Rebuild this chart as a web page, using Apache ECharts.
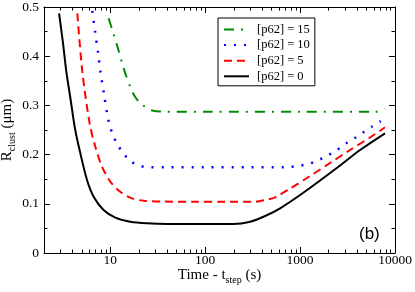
<!DOCTYPE html>
<html>
<head>
<meta charset="utf-8">
<script src="https://cdn.jsdelivr.net/npm/echarts@6/dist/echarts.min.js"></script>
<style>
html,body{margin:0;padding:0;background:#fff;}
#chart{width:415px;height:292px;}
</style>
</head>
<body>
<div id="chart"></div>
<script>
// ---- data ----
const seriesNames = ['[p62] = 15', '[p62] = 10', '[p62] = 5', '[p62] = 0'];

const t0 = [2.884, 3.16, 3.44, 3.82, 4.25, 4.83, 5.69, 6.67, 8.49, 11.3, 16.2, 24.3, 40, 80, 140, 197, 298, 428, 616, 1000, 1624, 2637, 4283, 7850];
const r0 = [0.4872, 0.4289, 0.3685, 0.311, 0.252, 0.2026, 0.148, 0.1144, 0.0874, 0.0718, 0.0636, 0.0603, 0.059, 0.059, 0.059, 0.059, 0.0636, 0.0752, 0.0909, 0.1179, 0.1474, 0.1778, 0.2093, 0.2433];

const t5 = [4.49, 5.07, 6.05, 6.95, 8.18, 10, 12.7, 16.9, 22.4, 35, 80, 160, 336, 428, 546, 785, 1274, 2069, 3357, 5456, 7850];
const r5 = [0.487, 0.3685, 0.2636, 0.216, 0.1754, 0.145, 0.1246, 0.111, 0.1063, 0.1045, 0.1043, 0.1043, 0.1043, 0.1077, 0.1132, 0.1311, 0.1565, 0.1829, 0.2093, 0.2348, 0.2555];

const t10 = [6.46, 6.9, 7.42, 7.91, 8.59, 9.30, 9.83, 10.67, 11.94, 13.8, 16.2, 20.3, 25.3, 40, 100, 300, 695, 956, 1222, 1560, 1986, 2432, 2976, 3733, 4571, 5694, 7085];
const r10 = [0.4919, 0.451, 0.408, 0.365, 0.3226, 0.2805, 0.260, 0.2398, 0.2195, 0.2026, 0.187, 0.1774, 0.1745, 0.1745, 0.1745, 0.1745, 0.1745, 0.177, 0.181, 0.189, 0.199, 0.209, 0.2215, 0.233, 0.2445, 0.2567, 0.268];

const t15 = [9.60, 10.75, 12.0, 13.2, 14.55, 16.24, 18.3, 21.7, 27.7, 37.9, 100, 1000, 6170, 7850];
const r15 = [0.477, 0.447, 0.4167, 0.388, 0.362, 0.3374, 0.317, 0.301, 0.2896, 0.2872, 0.287, 0.287, 0.287, 0.2927];

const xMinorTicks = [2,3,4,5,6,7,8,9,20,30,40,50,60,70,80,90,200,300,400,500,600,700,800,900,2000,3000,4000,5000,6000,7000,8000,9000];
const yTickLabels = ['0', '0.1', '0.2', '0.3', '0.4', '0.5'];
const xName = '{m|Time - t}{s|step}{m| (s)}';
const yName = '{m|R}{s|clust}{m| (μm)}';
const panelLabel = '(b)';

const xMin = 2, xMax = 10000, yMin = 0, yMax = 0.5, yStep = 0.1;

// ---- chart ----
const zip = (a, b) => a.map((v, i) => [v, b[i]]);
const serif = 'Liberation Serif';
const lg = v => Math.log10(v);
const rich = {
  m: {fontFamily: serif, fontSize: 15, color: '#000'},
  s: {fontFamily: serif, fontSize: 10, color: '#000', padding: [9, 0, 0, 0]}
};

const majorAxis = (pos, main) => ({
  type: 'log', logBase: 10, position: pos, min: xMin, max: xMax, gridIndex: 0,
  name: main ? xName : '', nameLocation: 'middle', nameGap: 13, nameMoveOverlap: false,
  nameTextStyle: {rich: rich},
  axisLine: {show: true, onZero: false, lineStyle: {color: '#000', width: 1}},
  axisTick: {show: true, inside: true, length: 6, lineStyle: {color: '#000', width: 1}},
  axisLabel: {show: main, showMinLabel: false, color: '#000', fontFamily: serif, fontSize: 13.5, margin: 0,
    formatter: v => String(Math.round(v))},
  splitLine: {show: false}, minorTick: {show: false}, minorSplitLine: {show: false}
});
const minorAxis = (pos) => ({
  type: 'value', position: pos, min: lg(xMin), max: lg(xMax), gridIndex: 0,
  axisLine: {show: false, onZero: false},
  axisTick: {show: true, inside: true, length: 3.5, customValues: xMinorTicks.map(lg), lineStyle: {color: '#000', width: 1}},
  axisLabel: {show: false},
  splitLine: {show: false}
});
const yAx = (pos, main) => ({
  type: 'value', position: pos, min: yMin, max: yMax, interval: yStep,
  name: main ? yName : '', nameLocation: 'middle', nameGap: 27, nameRotate: 90, nameMoveOverlap: false,
  nameTextStyle: {rich: rich},
  axisLine: {show: true, onZero: false, lineStyle: {color: '#000', width: 1}},
  axisTick: {show: true, inside: true, length: 6, lineStyle: {color: '#000', width: 1}},
  minorTick: {show: true, splitNumber: 2, length: 3.5, lineStyle: {color: '#000', width: 1}},
  axisLabel: {show: main, color: '#000', fontFamily: serif, fontSize: 13.5, margin: 5,
    formatter: v => yTickLabels[Math.round(v / yStep)]},
  splitLine: {show: false}
});

const styles = [
  {color: '#008c00', type: [10, 7, 2, 7], width: 2},
  {color: '#0000ff', type: [2, 8], width: 2.5},
  {color: '#ff0000', type: [8, 5], width: 2},
  {color: '#000000', type: 'solid', width: 2}
];
const datas = [zip(t15, r15), zip(t10, r10), zip(t5, r5), zip(t0, r0)];

const chart = echarts.init(document.getElementById('chart'), null, {renderer: 'canvas'});
chart.setOption({
  animation: false,
  backgroundColor: '#fff',
  grid: {left: 44, right: 20, top: 7, bottom: 39, containLabel: false, outerBoundsMode: 'none'},
  xAxis: [majorAxis('bottom', true), majorAxis('top', false), minorAxis('bottom'), minorAxis('top')],
  yAxis: [yAx('left', true), yAx('right', false)],
  legend: {
    orient: 'vertical', left: 218, top: 18,
    data: seriesNames,
    itemWidth: 25, itemHeight: 12, itemGap: 2.6,
    padding: [5, 5, 3, 5],
    borderColor: '#000', borderWidth: 1,
    itemStyle: {opacity: 0},
    textStyle: {fontFamily: serif, fontSize: 12.5, color: '#000', padding: [0, 0, 0, 3]}
  },
  graphic: [
    {type: 'text', left: 359, top: 226, style: {text: panelLabel, fontFamily: 'Liberation Sans', fontSize: 17, fill: '#000'}}
  ],
  series: seriesNames.map((n, i) => ({
    name: n, type: 'line', xAxisIndex: 0, yAxisIndex: 0,
    data: datas[i], showSymbol: false, symbol: 'none',
    smooth: 0.3,
    lineStyle: {color: styles[i].color, type: styles[i].type, width: styles[i].width, cap: 'butt'},
    itemStyle: {color: styles[i].color}
  }))
});
</script>
</body>
</html>
